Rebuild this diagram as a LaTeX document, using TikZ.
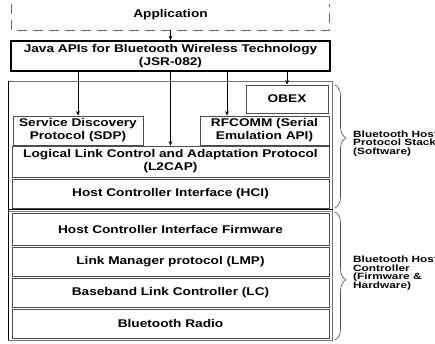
\documentclass[tikz,border=0pt]{standalone}
\usepackage{fontspec}
\setmainfont{Liberation Sans}[FakeStretch=1.22]
\newfontfamily\labfont{Liberation Sans}[FakeStretch=1.3]
\usetikzlibrary{arrows.meta,decorations.pathreplacing}
\tikzset{
 layer/.style={draw=black!70, line width=0.9pt, inner sep=0pt, align=center,
   font=\bfseries\fontsize{11.2}{13}\selectfont, text=black},
 arr/.style={draw=black, line width=0.6pt, -{Stealth[length=4.5pt,width=3.8pt]}},
 brc/.style={draw=black!70, line width=0.6pt, decorate},
 lab/.style={anchor=west, align=left, inner sep=0pt,
   font=\labfont\bfseries\fontsize{9.1}{8.6}\selectfont},
 dashbox/.style={draw=black!60, line width=0.8pt, dash pattern=on 10pt off 6pt},
 frame/.style={draw=black!55, line width=0.7pt}
}
\begin{document}
\begin{tikzpicture}[x=1pt,y=1pt]
\useasboundingbox (0,0) rectangle (435,343);
% outer frame
\draw[frame] (8,262) -- (332.5,262) -- (332.5,3) -- (8,3);
\draw[black, line width=1.6pt] (8.5,262) -- (8.5,3);
\draw[black, line width=1.2pt] (8,133.2) -- (332.5,133.2);
\draw[black!50, line width=0.6pt] (9,131.3) -- (331,131.3);
% nodes
\node[layer, draw=none, minimum width=317pt, minimum height=30pt] (app) at (170.5,328) {Application};
\node[layer, draw=black, line width=1.6pt, minimum width=319pt, minimum height=30pt] (jsr) at (170.5,287) {Java APIs for Bluetooth Wireless Technology\\(JSR-082)};
\node[layer, minimum width=82pt, minimum height=28pt] (obex) at (287,244) {OBEX};
\node[layer, minimum width=130pt, minimum height=29pt] (sdp) at (78,212.5) {Service Discovery\\Protocol (SDP)};
\node[layer, minimum width=129pt, minimum height=29pt] (rfcomm) at (264.5,212.5) {RFCOMM (Serial\\Emulation API)};
\node[layer, minimum width=317pt, minimum height=31pt] (l2cap) at (170.5,181.5) {Logical Link Control and Adaptation Protocol\\(L2CAP)};
\node[layer, minimum width=317pt, minimum height=29pt] (hci) at (170.5,149.5) {Host Controller Interface (HCI)};
\node[layer, minimum width=317pt, minimum height=32pt] (hcif) at (170.5,114) {Host Controller Interface Firmware};
\node[layer, minimum width=317pt, minimum height=29pt] (lmp) at (170.5,81.5) {Link Manager protocol (LMP)};
\node[layer, minimum width=317pt, minimum height=29pt] (lc) at (170.5,50.5) {Baseband Link Controller (LC)};
\node[layer, minimum width=317pt, minimum height=29pt] (radio) at (170.5,19.5) {Bluetooth Radio};
% dashed application box (top edge cut off)
\draw[dashbox] ([yshift=-4pt]app.north west) -- (app.south west) -- (app.south east) -- ([yshift=-4pt]app.north east);
% arrows
\draw[arr] (app.south) -- (jsr.north);
\draw[arr] (jsr.south -| sdp.north) -- (sdp.north);
\draw[arr] (jsr.south) -- (l2cap.north);
\coordinate (rfin) at ([xshift=-37.5pt]rfcomm.north);
\draw[arr] (jsr.south -| rfin) -- (rfin);
\draw[arr] (jsr.south -| obex.north) -- (obex.north);
% braces and labels
\coordinate (b1s) at (335,258);
\coordinate (b1e) at (335,135);
\coordinate (b2s) at (335,131);
\coordinate (b2e) at (335,3);
\draw[brc, decoration={brace, amplitude=11pt, aspect=0.43}] (b1s) -- (b1e);
\draw[brc, decoration={brace, amplitude=11pt, aspect=0.53}] (b2s) -- (b2e);
\node[lab] (l1) at (353,199.5) {Bluetooth Host\\Protocol Stack\\(Software)};
\node[lab] (l2) at (353,70) {Bluetooth Host\\Controller\\(Firmware \&\\Hardware)};
\end{tikzpicture}
\end{document}
